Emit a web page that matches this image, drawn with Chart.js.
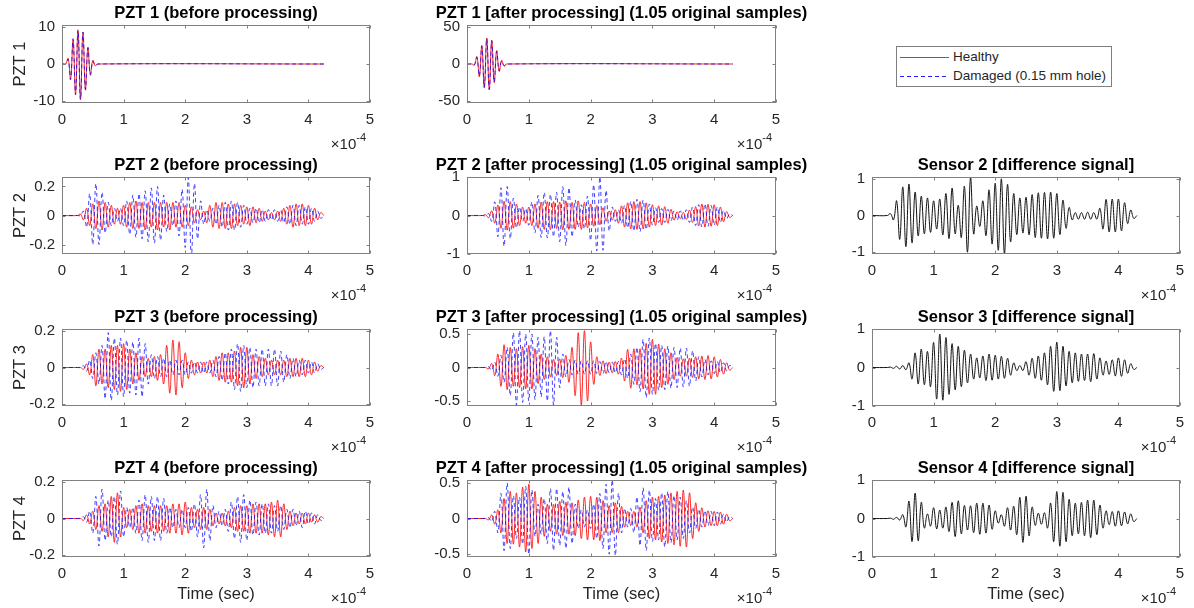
<!DOCTYPE html>
<html>
<head>
<meta charset="utf-8">
<script src="https://cdn.jsdelivr.net/npm/chart.js@4.4.1/dist/chart.umd.min.js"></script>
<style>
  html, body { margin: 0; padding: 0; background: #fff; width: 1194px; height: 608px; overflow: hidden; position: relative; }
  canvas { position: absolute; }
  #legend {
    position: absolute; left: 896px; top: 46px; width: 216px; height: 41px; box-sizing: border-box;
    border: 1px solid #7f7f7f; background: #fff; padding-top: 1px;
    font: 13.5px "Liberation Sans", Arial, sans-serif; color: #262626;
  }
  #legend .row { height: 18.5px; line-height: 18.5px; padding-left: 3px; white-space: nowrap; }
  #legend svg { vertical-align: top; margin-right: 4px; }
</style>
</head>
<body>
<div id="legend">
  <div class="row"><svg width="49" height="18"><line x1="0" y1="9.5" x2="49" y2="9.5" stroke="#ff2020" stroke-width="1"/></svg>Healthy</div>
  <div class="row"><svg width="49" height="18"><line x1="0" y1="9.5" x2="49" y2="9.5" stroke="#2020ff" stroke-width="1" stroke-dasharray="4 3"/></svg>Damaged (0.15 mm hole)</div>
</div>
<script>
// time in units of 1e-4 s; signals listed as successive extrema
const timeTicks = [0, 1, 2, 3, 4, 5];
const T0 = 0.30, DT = 0.05;          // extrema spacing for rows 2-4
const END_BEFORE = 4.25, END_AFTER = 4.30;

// PZT 1
const pzt1BeforeHealthy = [0, 1.5, -4, 6.5, -8, 9, -9.5, 8.5, -7, 4.5, -3, 1, -0.5, 0];
const pzt1BeforeDamaged = [0, 1.3, -4.2, 6.8, -8.3, 9.2, -9.6, 8.6, -6.8, 4.3, -2.8, 0.8, -0.4, 0];
const pzt1AfterHealthy = [0, -1.5, 10, -17, 25, -32, 35, -35, 32, -25, 18, -10, 5, -3, 0];
const pzt1AfterDamaged = [0, -1.2, 9, -16, 24, -31, 34, -34, 31, -24, 17, -9, 4, -2, 0];

// PZT 2
const pzt2BeforeHealthy = [
  0.01,-0.03,0.05,-0.07,0.08,-0.09,0.1,-0.1,0.09,-0.08,
  0.07,-0.06,0.05,-0.06,0.07,-0.08,0.09,-0.09,0.1,-0.09,
  0.09,-0.1,0.09,-0.08,0.09,-0.1,0.09,-0.08,0.09,-0.1,
  0.09,-0.08,0.09,-0.08,0.07,-0.07,0.06,-0.05,0.04,-0.03,
  0.03,-0.05,0.07,-0.08,0.09,-0.09,0.09,-0.09,0.08,-0.09,
  0.08,-0.07,0.07,-0.06,0.06,-0.07,0.06,-0.05,0.05,-0.04,
  0.03,-0.03,0.02,-0.03,0.03,-0.04,0.05,-0.06,0.07,-0.08,
  0.08,-0.07,0.08,-0.07,0.07,-0.06,0.05,-0.03,0.02,0];
const pzt2BeforeDamaged = [
  0,0.03,-0.08,0.15,-0.2,0.22,-0.2,0.16,-0.12,0.09,
  -0.07,0.05,-0.04,0.05,-0.07,0.1,-0.13,0.14,-0.15,0.15,
  -0.16,0.17,-0.18,0.19,-0.19,0.2,-0.17,0.14,-0.11,0.08,
  -0.07,0.1,-0.14,0.18,-0.22,0.26,-0.28,0.22,-0.16,0.1,
  -0.06,0.04,-0.04,0.05,-0.06,0.07,-0.08,0.09,-0.1,0.1,
  -0.1,0.09,-0.08,0.07,-0.06,0.05,-0.05,0.05,-0.05,0.04,
  -0.04,0.04,-0.03,0.04,-0.04,0.04,-0.05,0.06,-0.06,0.07,
  -0.07,0.07,-0.06,0.06,-0.06,0.05,-0.04,0.03,-0.02,0];
const pzt2AfterHealthy = [
  0.02,-0.06,0.12,-0.2,0.27,-0.33,0.37,-0.38,0.36,-0.33,
  0.3,-0.26,0.22,-0.2,0.22,-0.26,0.3,-0.33,0.35,-0.36,
  0.36,-0.37,0.36,-0.34,0.35,-0.37,0.38,-0.36,0.34,-0.36,
  0.38,-0.36,0.34,-0.32,0.3,-0.28,0.26,-0.24,0.2,-0.15,
  0.12,-0.12,0.15,-0.2,0.25,-0.3,0.33,-0.35,0.36,-0.36,
  0.36,-0.35,0.33,-0.3,0.28,-0.26,0.25,-0.25,0.23,-0.2,
  0.16,-0.12,0.1,-0.08,0.08,-0.1,0.14,-0.18,0.23,-0.27,
  0.3,-0.3,0.29,-0.28,0.28,-0.26,0.22,-0.16,0.1,-0.05,
  0];
const pzt2AfterDamaged = [
  -0.01,0.05,-0.15,0.35,-0.55,0.72,-0.8,0.75,-0.6,0.45,
  -0.32,0.22,-0.16,0.18,-0.25,0.35,-0.45,0.52,-0.57,0.6,
  -0.58,0.55,-0.55,0.6,-0.68,0.75,-0.78,0.72,-0.55,0.4,
  -0.3,0.28,-0.35,0.5,-0.65,0.8,-0.92,1.0,-0.9,0.65,
  -0.4,0.22,-0.15,0.15,-0.2,0.26,-0.32,0.36,-0.4,0.42,
  -0.42,0.4,-0.36,0.3,-0.25,0.2,-0.18,0.18,-0.18,0.16,
  -0.14,0.12,-0.12,0.12,-0.13,0.15,-0.18,0.22,-0.26,0.28,
  -0.3,0.3,-0.28,0.26,-0.25,0.22,-0.18,0.13,-0.08,0.04,
  0];
const sensor2Diff = [
  0.05,-0.12,0.4,-0.65,0.78,-0.85,0.86,-0.75,0.64,-0.56,
  0.53,-0.5,0.48,-0.46,0.4,-0.37,0.45,-0.53,0.6,-0.63,
  0.75,-0.5,0.28,-0.6,0.8,-1.0,1.05,-0.5,0.26,-0.3,
  0.4,-0.55,0.7,-0.78,0.88,-0.95,1.0,-1.05,0.85,-0.72,
  0.6,-0.52,0.48,-0.48,0.5,-0.53,0.57,-0.6,0.62,-0.62,
  0.63,-0.64,0.64,-0.62,0.6,-0.52,0.42,-0.35,0.22,-0.12,
  0.08,-0.1,0.08,-0.1,0.09,-0.1,0.08,-0.1,0.2,-0.37,
  0.44,-0.45,0.45,-0.45,0.45,-0.42,0.35,-0.22,0.15,-0.08,
  0];

// PZT 3
const pzt3BeforeHealthy = [
  0,-0.01,0.02,-0.04,0.07,-0.1,0.1,-0.09,0.1,-0.11,
  0.12,-0.12,0.12,-0.13,0.13,-0.12,0.1,-0.09,0.08,-0.07,
  0.06,-0.05,0.05,-0.05,0.06,-0.07,0.07,-0.09,0.12,-0.14,
  0.15,-0.15,0.14,-0.11,0.08,-0.06,0.04,-0.04,0.03,-0.03,
  0.03,-0.03,0.04,-0.05,0.06,-0.07,0.08,-0.08,0.08,-0.08,
  0.09,-0.1,0.11,-0.11,0.11,-0.09,0.07,-0.06,0.06,-0.05,
  0.05,-0.04,0.04,-0.04,0.04,-0.04,0.04,-0.05,0.05,-0.05,
  0.05,-0.05,0.05,-0.05,0.04,-0.04,0.03,-0.02,0.01,0];
const pzt3BeforeDamaged = [
  0,0.01,-0.02,0.04,-0.06,0.08,-0.09,0.12,-0.17,0.19,
  -0.18,0.16,-0.15,0.16,-0.16,0.15,-0.14,0.14,-0.15,0.16,
  -0.16,0.13,-0.09,0.07,-0.06,0.06,-0.05,0.05,-0.05,0.04,
  -0.04,0.04,-0.04,0.04,-0.04,0.03,-0.03,0.03,-0.03,0.03,
  -0.03,0.03,-0.03,0.04,-0.05,0.06,-0.07,0.08,-0.09,0.1,
  -0.12,0.13,-0.13,0.12,-0.11,0.11,-0.11,0.1,-0.1,0.1,
  -0.1,0.1,-0.1,0.1,-0.1,0.09,-0.08,0.07,-0.06,0.05,
  -0.05,0.04,-0.04,0.04,-0.03,0.03,-0.03,0.02,-0.01,0];
const pzt3AfterHealthy = [
  0,-0.02,0.06,-0.12,0.2,-0.28,0.34,-0.33,0.3,-0.28,
  0.28,-0.3,0.31,-0.32,0.33,-0.32,0.28,-0.24,0.2,-0.18,
  0.16,-0.14,0.12,-0.12,0.13,-0.15,0.18,-0.22,0.3,-0.42,
  0.52,-0.56,0.55,-0.5,0.38,-0.25,0.16,-0.12,0.1,-0.09,
  0.08,-0.08,0.09,-0.1,0.14,-0.2,0.27,-0.31,0.28,-0.26,
  0.28,-0.32,0.36,-0.4,0.42,-0.4,0.35,-0.3,0.28,-0.25,
  0.22,-0.18,0.15,-0.13,0.13,-0.13,0.14,-0.15,0.16,-0.17,
  0.17,-0.18,0.18,-0.17,0.16,-0.14,0.12,-0.1,0.07,-0.04,
  0];
const pzt3AfterDamaged = [
  0,0.01,-0.04,0.08,-0.13,0.18,-0.22,0.3,-0.42,0.52,
  -0.56,0.55,-0.52,0.5,-0.5,0.5,-0.48,0.45,-0.44,0.46,
  -0.5,0.55,-0.56,0.45,-0.3,0.2,-0.14,0.12,-0.11,0.11,
  -0.1,0.1,-0.1,0.1,-0.1,0.1,-0.09,0.09,-0.09,0.09,
  -0.08,0.08,-0.08,0.09,-0.11,0.13,-0.16,0.2,-0.25,0.3,
  -0.36,0.42,-0.45,0.44,-0.4,0.36,-0.34,0.33,-0.33,0.32,
  -0.31,0.3,-0.3,0.29,-0.29,0.29,-0.28,0.25,-0.2,0.16,
  -0.14,0.12,-0.11,0.1,-0.09,0.09,-0.08,0.07,-0.05,0.03,
  0];
const sensor3Diff = [
  0.01,-0.02,0.03,-0.04,0.05,-0.06,0.12,-0.3,0.38,-0.43,
  0.48,-0.45,0.42,-0.5,0.65,-0.82,0.87,-0.85,0.78,-0.7,
  0.62,-0.58,0.55,-0.5,0.45,-0.4,0.35,-0.3,0.25,-0.27,
  0.3,-0.34,0.35,-0.33,0.32,-0.3,0.29,-0.28,0.24,-0.2,
  0.12,-0.08,0.05,-0.08,0.15,-0.2,0.24,-0.28,0.3,-0.33,
  0.38,-0.45,0.55,-0.62,0.66,-0.6,0.55,-0.48,0.42,-0.4,
  0.38,-0.36,0.35,-0.34,0.35,-0.37,0.36,-0.3,0.25,-0.2,
  0.17,-0.18,0.2,-0.22,0.25,-0.23,0.2,-0.15,0.1,-0.05,
  0];

// PZT 4
const pzt4BeforeHealthy = [
  0,-0.01,0.02,-0.03,0.04,-0.06,0.07,-0.07,0.08,-0.1,
  0.12,-0.13,0.14,-0.1,0.06,-0.05,0.05,-0.06,0.07,-0.08,
  0.08,-0.08,0.07,-0.07,0.07,-0.08,0.07,-0.07,0.07,-0.08,
  0.08,-0.08,0.08,-0.09,0.09,-0.08,0.06,-0.05,0.05,-0.06,
  0.06,-0.06,0.05,-0.04,0.03,-0.03,0.03,-0.04,0.04,-0.05,
  0.06,-0.07,0.07,-0.07,0.07,-0.08,0.08,-0.08,0.08,-0.08,
  0.08,-0.09,0.09,-0.1,0.1,-0.1,0.08,-0.06,0.04,-0.04,
  0.03,-0.03,0.03,-0.03,0.03,-0.02,0.02,-0.02,0.01,0];
const pzt4BeforeDamaged = [
  0,0.01,-0.02,0.04,-0.08,0.12,-0.15,0.16,-0.12,0.1,
  -0.1,0.12,-0.14,0.15,-0.1,0.06,-0.05,0.06,-0.08,0.1,
  -0.12,0.13,-0.13,0.12,-0.12,0.12,-0.12,0.11,-0.08,0.06,
  -0.05,0.05,-0.05,0.05,-0.05,0.06,-0.07,0.08,-0.1,0.13,
  -0.16,0.16,-0.12,0.07,-0.05,0.04,-0.04,0.05,-0.07,0.09,
  -0.11,0.12,-0.13,0.13,-0.12,0.1,-0.09,0.09,-0.09,0.08,
  -0.08,0.08,-0.08,0.07,-0.07,0.07,-0.06,0.05,-0.05,0.05,
  -0.04,0.04,-0.05,0.04,-0.03,0.03,-0.03,0.02,-0.01,0];
const pzt4AfterHealthy = [
  0,-0.02,0.05,-0.08,0.12,-0.2,0.28,-0.35,0.38,-0.36,
  0.36,-0.4,0.44,-0.47,0.48,-0.42,0.38,-0.35,0.3,-0.25,
  0.2,-0.18,0.2,-0.22,0.24,-0.24,0.23,-0.22,0.22,-0.24,
  0.26,-0.28,0.3,-0.3,0.31,-0.3,0.3,-0.31,0.25,-0.2,
  0.18,-0.2,0.22,-0.2,0.17,-0.12,0.1,-0.1,0.1,-0.12,
  0.16,-0.2,0.25,-0.28,0.3,-0.3,0.31,-0.33,0.33,-0.35,
  0.36,-0.37,0.38,-0.39,0.4,-0.4,0.36,-0.28,0.22,-0.18,
  0.15,-0.12,0.11,-0.1,0.1,-0.1,0.09,-0.08,0.06,-0.03,
  0];
const pzt4AfterDamaged = [
  0,0.01,-0.04,0.1,-0.2,0.35,-0.45,0.5,-0.42,0.32,
  -0.28,0.3,-0.36,0.45,-0.5,0.4,-0.25,0.2,-0.22,0.28,
  -0.35,0.42,-0.45,0.42,-0.38,0.38,-0.42,0.44,-0.35,0.2,
  -0.14,0.12,-0.12,0.12,-0.14,0.2,-0.28,0.35,-0.42,0.48,
  -0.5,0.54,-0.52,0.35,-0.2,0.14,-0.12,0.14,-0.2,0.3,
  -0.38,0.43,-0.45,0.4,-0.32,0.28,-0.3,0.36,-0.4,0.38,
  -0.34,0.32,-0.3,0.3,-0.28,0.25,-0.2,0.16,-0.14,0.13,
  -0.12,0.11,-0.1,0.1,-0.1,0.09,-0.08,0.06,-0.05,0.03,
  0];
const sensor4Diff = [
  0.01,-0.02,0.03,-0.04,0.1,-0.22,0.45,-0.6,0.66,-0.58,
  0.42,-0.25,0.12,-0.2,0.28,-0.27,0.22,-0.25,0.3,-0.34,
  0.42,-0.47,0.46,-0.4,0.34,-0.3,0.33,-0.37,0.4,-0.41,
  0.4,-0.38,0.35,-0.28,0.2,-0.12,0.1,-0.2,0.28,-0.3,
  0.32,-0.42,0.55,-0.62,0.58,-0.45,0.3,-0.18,0.14,-0.15,
  0.15,-0.25,0.4,-0.6,0.7,-0.72,0.68,-0.6,0.5,-0.45,
  0.4,-0.4,0.42,-0.45,0.48,-0.5,0.48,-0.42,0.35,-0.25,
  0.2,-0.16,0.18,-0.2,0.2,-0.19,0.17,-0.14,0.12,-0.08,
  0];

// y tick labels
const ticksPzt1Before = [-10, 0, 10];
const ticksPzt1After = [-50, 0, 50];
const ticksTenths = [-0.2, 0, 0.2];
const ticksUnit = [-1, 0, 1];
const ticksHalf = [-0.5, 0, 0.5];

// ---- layout ----
const FONT = '"Liberation Sans", Arial, Helvetica, sans-serif';
const AX = '#262626';
const L = 70, R = 50, T = 25, B = 56;
const colLeft = [62, 467, 872], colWidth = [308, 309, 308];
const rowTop = [25, 177, 329, 480], rowHeight = [78, 77, 77, 77];

// signal is flat zero until the first listed extremum
function sig(vals, t0, dt, tEnd) {
  const pts = [{x: 0, y: 0}, {x: t0 - dt, y: 0}];
  vals.forEach((v, i) => pts.push({x: t0 + i * dt, y: v}));
  if (t0 + (vals.length - 1) * dt < tEnd - 1e-9) pts.push({x: tEnd, y: 0});
  return pts;
}

const STYLE = {
  healthy: {borderColor: 'rgba(255,0,0,0.85)', borderWidth: 1},
  damaged: {borderColor: 'rgba(0,0,255,0.75)', borderWidth: 1, borderDash: [4, 3]},
  diff: {borderColor: '#111111', borderWidth: 1},
};

// damaged first so it is drawn on top of healthy
const panels = [
  {r: 0, c: 0, title: 'PZT 1 (before processing)', ylabel: 'PZT 1', ymax: 10.5, yticks: ticksPzt1Before,
   lines: [[sig(pzt1BeforeDamaged, 0.06, 0.04, END_BEFORE), 'damaged'], [sig(pzt1BeforeHealthy, 0.06, 0.04, END_BEFORE), 'healthy']]},
  {r: 0, c: 1, title: 'PZT 1 [after processing] (1.05 original samples)', ymax: 52.5, yticks: ticksPzt1After,
   lines: [[sig(pzt1AfterDamaged, 0.08, 0.04, END_AFTER), 'damaged'], [sig(pzt1AfterHealthy, 0.08, 0.04, END_AFTER), 'healthy']]},

  {r: 1, c: 0, title: 'PZT 2 (before processing)', ylabel: 'PZT 2', ymax: 0.265, yticks: ticksTenths,
   lines: [[sig(pzt2BeforeDamaged, T0, DT, END_BEFORE), 'damaged'], [sig(pzt2BeforeHealthy, T0, DT, END_BEFORE), 'healthy']]},
  {r: 1, c: 1, title: 'PZT 2 [after processing] (1.05 original samples)', ymax: 1, yticks: ticksUnit,
   lines: [[sig(pzt2AfterDamaged, T0, DT, END_AFTER), 'damaged'], [sig(pzt2AfterHealthy, T0, DT, END_AFTER), 'healthy']]},
  {r: 1, c: 2, title: 'Sensor 2 [difference signal]', ymax: 1.05, yticks: ticksUnit,
   lines: [[sig(sensor2Diff, T0, DT, END_AFTER), 'diff']]},

  {r: 2, c: 0, title: 'PZT 3 (before processing)', ylabel: 'PZT 3', ymax: 0.21, yticks: ticksTenths,
   lines: [[sig(pzt3BeforeDamaged, T0, DT, END_BEFORE), 'damaged'], [sig(pzt3BeforeHealthy, T0, DT, END_BEFORE), 'healthy']]},
  {r: 2, c: 1, title: 'PZT 3 [after processing] (1.05 original samples)', ymax: 0.575, yticks: ticksHalf,
   lines: [[sig(pzt3AfterDamaged, T0, DT, END_AFTER), 'damaged'], [sig(pzt3AfterHealthy, T0, DT, END_AFTER), 'healthy']]},
  {r: 2, c: 2, title: 'Sensor 3 [difference signal]', ymax: 1, yticks: ticksUnit,
   lines: [[sig(sensor3Diff, T0, DT, END_AFTER), 'diff']]},

  {r: 3, c: 0, title: 'PZT 4 (before processing)', ylabel: 'PZT 4', ymax: 0.21, yticks: ticksTenths, xlabel: 'Time (sec)',
   lines: [[sig(pzt4BeforeDamaged, T0, DT, END_BEFORE), 'damaged'], [sig(pzt4BeforeHealthy, T0, DT, END_BEFORE), 'healthy']]},
  {r: 3, c: 1, title: 'PZT 4 [after processing] (1.05 original samples)', ymax: 0.54, yticks: ticksHalf, xlabel: 'Time (sec)',
   lines: [[sig(pzt4AfterDamaged, T0, DT, END_AFTER), 'damaged'], [sig(pzt4AfterHealthy, T0, DT, END_AFTER), 'healthy']]},
  {r: 3, c: 2, title: 'Sensor 4 [difference signal]', ymax: 1, yticks: ticksUnit, xlabel: 'Time (sec)',
   lines: [[sig(sensor4Diff, T0, DT, END_AFTER), 'diff']]},
];

// matlab-ish box, inward ticks, title, labels and the x10^-4 multiplier
const decor = {
  id: 'decor',
  afterDraw(chart, _args, o) {
    const {ctx, chartArea: a} = chart;
    const xs = chart.scales.x, ys = chart.scales.y;
    const l = Math.round(a.left) + 0.5, r = Math.round(a.right) - 0.5;
    const t = Math.round(a.top) + 0.5, b = Math.round(a.bottom) - 0.5;
    ctx.save();
    ctx.strokeStyle = '#808080';
    ctx.lineWidth = 1;
    ctx.beginPath();
    for (const tk of xs.ticks) {
      const p = Math.round(xs.getPixelForValue(tk.value)) + 0.5;
      ctx.moveTo(p, b); ctx.lineTo(p, b - 3);
      ctx.moveTo(p, t); ctx.lineTo(p, t + 3);
    }
    for (const tk of ys.ticks) {
      const p = Math.round(ys.getPixelForValue(tk.value)) + 0.5;
      ctx.moveTo(l, p); ctx.lineTo(l + 3, p);
      ctx.moveTo(r, p); ctx.lineTo(r - 3, p);
    }
    ctx.stroke();
    ctx.strokeRect(l, t, r - l, b - t);

    const cx = (a.left + a.right) / 2;
    ctx.textBaseline = 'alphabetic';
    ctx.fillStyle = '#000';
    ctx.textAlign = 'center';
    ctx.font = `bold 16.5px ${FONT}`;
    ctx.fillText(o.title, cx, a.top - 7);

    ctx.fillStyle = AX;
    ctx.font = `16.5px ${FONT}`;
    if (o.xlabel) ctx.fillText(o.xlabel, cx, a.bottom + 42);

    // x10^-4
    ctx.textAlign = 'left';
    ctx.font = `11px ${FONT}`;
    const w2 = ctx.measureText('-4').width;
    ctx.font = `15px ${FONT}`;
    const w1 = ctx.measureText('\u00d710').width;
    const xr = a.right - 4;
    ctx.fillText('\u00d710', xr - w2 - w1, a.bottom + 46);
    ctx.font = `11px ${FONT}`;
    ctx.fillText('-4', xr - w2, a.bottom + 38);

    if (o.ylabel) {
      ctx.translate(a.left - 37, (a.top + a.bottom) / 2);
      ctx.rotate(-Math.PI / 2);
      ctx.textAlign = 'center';
      ctx.font = `16.5px ${FONT}`;
      ctx.fillText(o.ylabel, 0, 0);
    }
    ctx.restore();
  }
};

for (const p of panels) {
  const w = colWidth[p.c] + L + R, h = rowHeight[p.r] + T + B;
  const cv = document.createElement('canvas');
  cv.width = w; cv.height = h;
  cv.style.left = (colLeft[p.c] - L) + 'px';
  cv.style.top = (rowTop[p.r] - T) + 'px';
  cv.style.width = w + 'px'; cv.style.height = h + 'px';
  document.body.appendChild(cv);

  new Chart(cv, {
    type: 'line',
    data: {
      datasets: p.lines.map(([pts, kind]) => ({data: pts, ...STYLE[kind]})),
    },
    options: {
      responsive: false,
      animation: false,
      events: [],
      devicePixelRatio: 1,
      layout: {padding: {left: 0, top: T, right: R, bottom: 0}},
      elements: {point: {radius: 0}, line: {tension: 0.4}},
      plugins: {
        legend: {display: false},
        tooltip: {enabled: false},
        decor: {title: p.title, ylabel: p.ylabel, xlabel: p.xlabel},
      },
      scales: {
        x: {
          type: 'linear', min: 0, max: 5,
          grid: {display: false, drawTicks: false},
          border: {display: false},
          ticks: {padding: 8, color: AX, font: {family: FONT, size: 15}, maxRotation: 0, autoSkip: false,
                  callback: (v) => String(v)},
          afterBuildTicks: (s) => { s.ticks = timeTicks.map((v) => ({value: v})); },
          afterFit: (s) => { s.height = B; },
        },
        y: {
          type: 'linear', min: -p.ymax, max: p.ymax,
          grid: {display: false, drawTicks: false},
          border: {display: false},
          ticks: {padding: 7, color: AX, font: {family: FONT, size: 15}, autoSkip: false,
                  callback: (v) => String(v)},
          afterBuildTicks: (s) => { s.ticks = p.yticks.map((v) => ({value: v})); },
          afterFit: (s) => { s.width = L; },
        },
      },
    },
    plugins: [decor],
  });
}
</script>
</body>
</html>
